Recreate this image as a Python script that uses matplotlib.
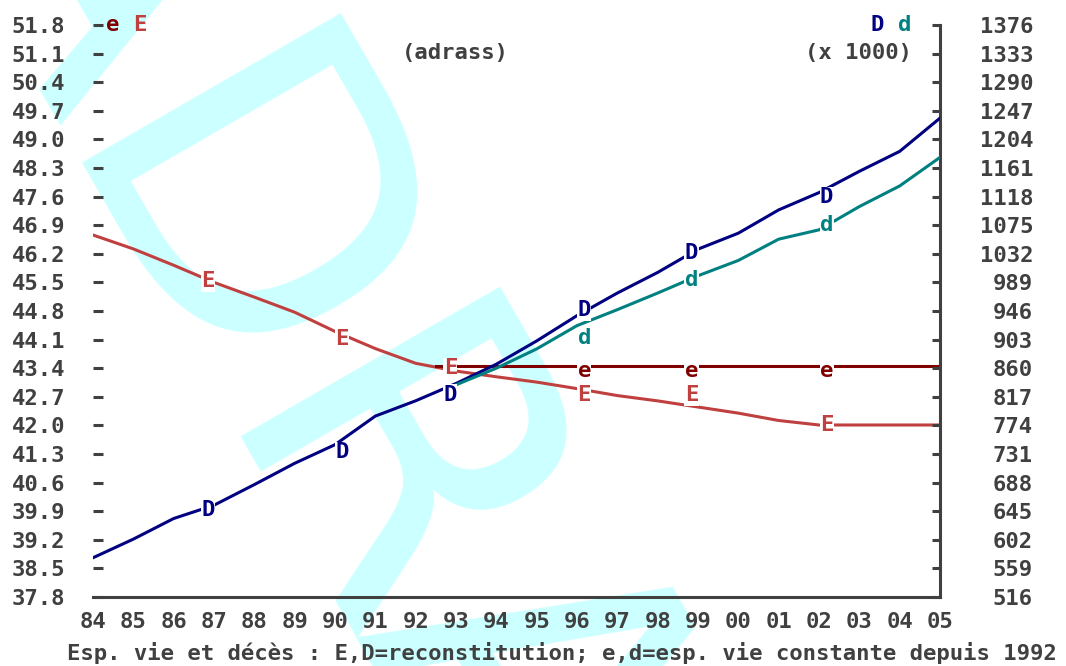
import numpy as np
import matplotlib
matplotlib.use("Agg")
import matplotlib.pyplot as plt

# years 1984..2005 written as 84..105
years = np.arange(84, 106)
year_labels = ['84', '85', '86', '87', '88', '89', '90', '91', '92', '93', '94',
               '95', '96', '97', '98', '99', '00', '01', '02', '03', '04', '05']

# life expectancy, reconstruction (E) and constant since 1992 (e)
E_vals = [46.66, 46.32, 45.92, 45.50, 45.14, 44.77, 44.30, 43.88, 43.52, 43.33, 43.19,
          43.06, 42.90, 42.73, 42.60, 42.45, 42.30, 42.12, 42.01, 42.01, 42.01, 42.01]
e_years = [92.5, 105]
e_vals = [43.45, 43.45]

# deaths (x 1000), reconstruction (D) and constant life expectancy (d)
D_vals = [575, 603, 634, 654, 685, 717, 745, 788, 811, 837, 866,
          901, 939, 973, 1004, 1039, 1063, 1098, 1124, 1156, 1186, 1236]
d_years = np.arange(93, 106)
d_vals = [835, 860, 889, 924, 948, 973, 999, 1022, 1054, 1068, 1103, 1134, 1177]

# letter markers
mark_x = [86.85, 90.18, 92.86, 96.18, 98.84, 102.19]
E_mark = [45.53, 44.11, 43.40, 42.74, 42.74, 42.01]
D_mark = [647, 734, 820, 947, 1033, 1117]
mark_x2 = [96.18, 98.84, 102.19]
e_mark = [43.33, 43.33, 43.33]
d_mark = [905, 993, 1075]

left_ticks = np.round(np.arange(37.8, 51.85, 0.7), 1)
right_ticks = np.arange(516, 1377, 43)

c_E = '#c04040'
c_e = '#800000'
c_D = '#000080'
c_d = '#008080'
grey = '#404040'
mono = 'DejaVu Sans Mono'
fs = 16

fig = plt.figure(figsize=(10.66, 6.66), dpi=100)

# watermark
fig.text(-0.076, 1.17, 'ADRASS', fontsize=296, family='DejaVu Sans', color='#ccffff',
         rotation=-60, rotation_mode='anchor', ha='left', va='baseline', zorder=-10)

ax = fig.add_axes([93 / 1066, 1 - 597 / 666, (940 - 93) / 1066, (597 - 25) / 666])
ax2 = ax.twinx()
for a in (ax, ax2):
    a.patch.set_visible(False)

ax.plot(years, E_vals, color=c_E, lw=2.2, zorder=3)
ax.plot(e_years, e_vals, color=c_e, lw=2.2, zorder=3)
ax2.plot(years, D_vals, color=c_D, lw=2.2, zorder=3)
ax2.plot(d_years, d_vals, color=c_d, lw=2.2, zorder=3)

box = dict(fc='white', ec='none', pad=0.3)
for x, y in zip(mark_x, E_mark):
    ax.text(x, y, 'E', color=c_E, fontsize=fs, family=mono, weight='bold',
            ha='center', va='center', bbox=box, zorder=5)
for x, y in zip(mark_x2, e_mark):
    ax.text(x, y, 'e', color=c_e, fontsize=fs, family=mono, weight='bold',
            ha='center', va='center', bbox=box, zorder=5)
for x, y in zip(mark_x, D_mark):
    ax2.text(x, y, 'D', color=c_D, fontsize=fs, family=mono, weight='bold',
             ha='center', va='center', bbox=box, zorder=5)
for x, y in zip(mark_x2, d_mark):
    ax2.text(x, y, 'd', color=c_d, fontsize=fs, family=mono, weight='bold',
             ha='center', va='center', bbox=box, zorder=5)

ax.set_xlim(84, 105)
ax.set_ylim(37.8, 51.8)
ax2.set_ylim(516, 1376)

for a in (ax, ax2):
    for s in ['top', 'left', 'right', 'bottom']:
        a.spines[s].set_visible(False)
ax.spines['bottom'].set_visible(True)
ax.spines['bottom'].set_color(grey)
ax.spines['bottom'].set_linewidth(2.2)
ax2.spines['right'].set_visible(True)
ax2.spines['right'].set_color(grey)
ax2.spines['right'].set_linewidth(2.2)

ax.set_xticks(years)
ax.set_xticklabels(year_labels)
ax.set_xticks([102, 103, 104, 105], minor=True)
ax.tick_params(axis='x', which='major', length=0, pad=11, labelcolor=grey)
ax.tick_params(axis='x', which='minor', length=7, width=2.2, direction='out', color=grey)

ax.set_yticks(left_ticks)
ax.set_yticklabels([f'{v:.1f}' for v in left_ticks])
ax.tick_params(axis='y', which='major', length=7, width=2.2, direction='in',
               pad=20, color=grey, labelcolor=grey)

ax2.set_yticks(right_ticks)
ax2.set_yticklabels([str(v) for v in right_ticks])
ax2.tick_params(axis='y', which='major', length=6, width=2.2, direction='in',
                pad=67, color=grey, labelcolor=grey)
for lbl in ax2.get_yticklabels():
    lbl.set_ha('right')

for lbl in ax.get_xticklabels() + ax.get_yticklabels() + ax2.get_yticklabels():
    lbl.set_family(mono)
    lbl.set_weight('bold')
    lbl.set_fontsize(fs)

def ftext(px, py, s, color, ha='left'):
    fig.text(px / 1066, 1 - py / 666, s, color=color, fontsize=fs, family=mono,
             weight='bold', ha=ha, va='center')

ftext(106, 25, 'e', c_e)
ftext(133, 25, 'E', c_E)
ftext(871, 25, 'D', c_D)
ftext(898, 25, 'd', c_d)
ftext(455, 53, '(adrass)', grey, ha='center')
ftext(912, 53, '(x 1000)', grey, ha='right')
ftext(562, 653, 'Esp. vie et décès : E,D=reconstitution; e,d=esp. vie constante depuis 1992',
      grey, ha='center')

fig.savefig('out.png', dpi=100)
